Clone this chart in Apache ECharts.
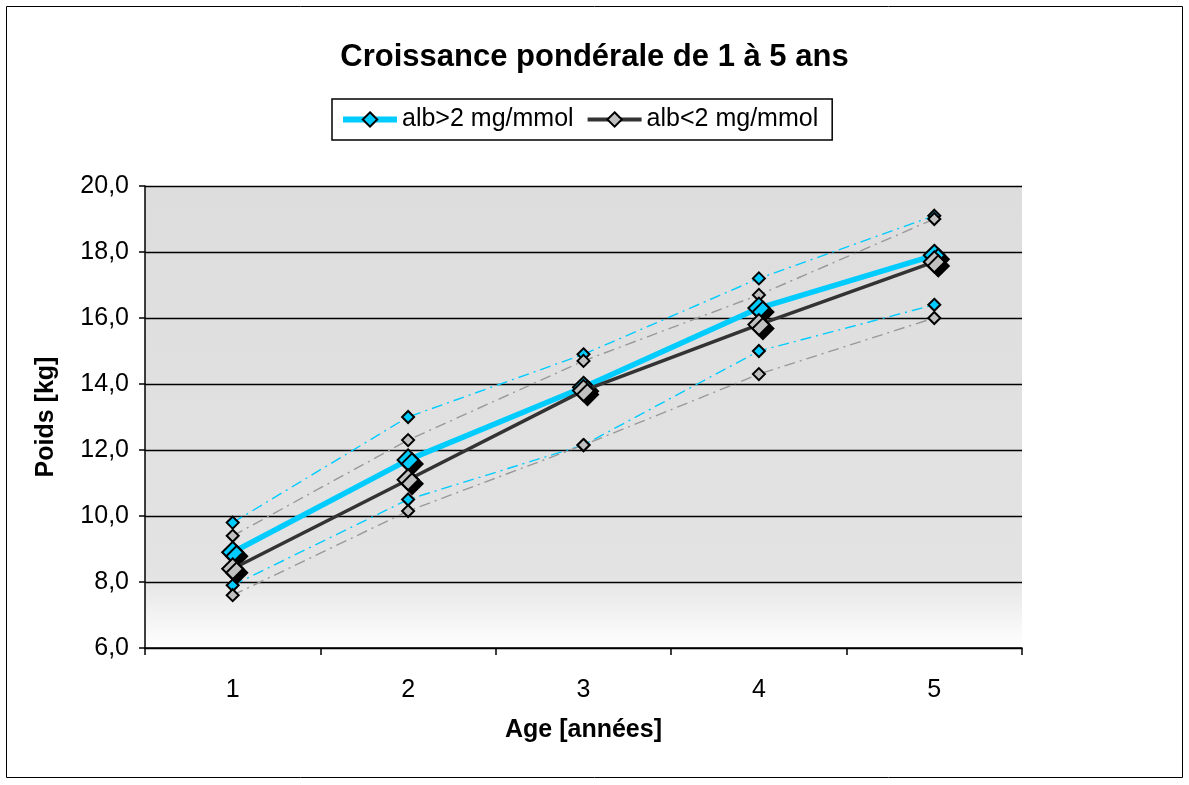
<!DOCTYPE html>
<html>
<head>
    <meta charset="utf-8">
    <script src="https://cdn.jsdelivr.net/npm/echarts@6/dist/echarts.min.js"></script>
    <style>
        html, body { margin: 0; padding: 0; background: #fff; }
        #main { width: 1189px; height: 785px; }
    </style>
</head>
<body>
<div id="main"></div>
<script type="text/javascript">
    // catégories (âge en années)
    var ages = ['1', '2', '3', '4', '5'];
    var yTicks = [6, 8, 10, 12, 14, 16, 18, 20];

    // moyennes
    var albHigh = [8.9, 11.7, 13.9, 16.3, 17.9];
    var albLow = [8.4, 11.1, 13.8, 15.8, 17.7];
    // bornes (pointillés)
    var albHighUp = [9.8, 13.0, 14.9, 17.2, 19.1];
    var albHighDown = [7.9, 10.5, 12.15, 15.0, 16.4];
    var albLowUp = [9.4, 12.3, 14.7, 16.7, 19.0];
    var albLowDown = [7.6, 10.15, 12.15, 14.3, 16.0];

    var cyan = '#00CCFF';
    var grey = '#C0C0C0';
    var font = 'Liberation Sans, Arial, sans-serif';

    function bound(data, color) {
        return {
            type: 'line',
            data: data,
            symbol: 'diamond',
            symbolSize: 12,
            z: 2,
            itemStyle: { color: color === cyan ? cyan : grey, borderColor: '#000', borderWidth: 2 },
            lineStyle: { color: color, width: 1.4, type: [11, 5, 2, 5] },
            emphasis: { disabled: true }
        };
    }

    var myChart = echarts.init(document.getElementById('main'));
    var option = {
        animation: false,
        textStyle: { fontFamily: font },
        title: {
            text: 'Croissance pondérale de 1 à 5 ans',
            left: 'center',
            top: 37,
            textStyle: { fontSize: 31, fontWeight: 'bold', color: '#000', fontFamily: font }
        },
        legend: {
            data: [
                { name: 'alb>2 mg/mmol', lineStyle: { width: 6, color: cyan } },
                { name: 'alb<2 mg/mmol', lineStyle: { width: 4, color: '#333333' } }
            ],
            top: 99,
            left: 332,
            padding: [8, 14, 8, 8],
            borderColor: '#000',
            borderWidth: 1.5,
            itemWidth: 54,
            itemHeight: 18,
            itemGap: 12,
            textStyle: { fontSize: 25, color: '#000', fontFamily: font }
        },
        graphic: [{
            type: 'rect',
            shape: { x: 6.5, y: 6.5, width: 1176, height: 771 },
            style: { fill: 'none', stroke: '#000', lineWidth: 1 },
            silent: true
        }],
        grid: {
            left: 145, right: 167, top: 186, bottom: 137,
            show: true,
            borderWidth: 0,
            backgroundColor: new echarts.graphic.LinearGradient(0, 0, 0, 1, [
                { offset: 0, color: '#dddddd' },
                { offset: 0.84, color: '#e3e3e3' },
                { offset: 1, color: '#ffffff' }
            ])
        },
        xAxis: {
            type: 'category',
            data: ages,
            boundaryGap: true,
            name: 'Age [années]',
            nameLocation: 'middle',
            nameGap: 70,
            nameTextStyle: { fontSize: 25, fontWeight: 'bold', color: '#000' },
            axisLine: { lineStyle: { color: '#000', width: 1.5 } },
            axisTick: { show: true, length: 7, lineStyle: { color: '#000', width: 1.5 } },
            axisLabel: { fontSize: 25, color: '#000', margin: 30 },
            splitLine: { show: false }
        },
        yAxis: {
            type: 'value',
            min: 6,
            max: 20,
            interval: 2,
            name: 'Poids [kg]',
            nameLocation: 'middle',
            nameGap: 86,
            nameTextStyle: { fontSize: 25, fontWeight: 'bold', color: '#000' },
            axisLine: { show: true, lineStyle: { color: '#000', width: 1.5 } },
            axisTick: { show: true, length: 6, lineStyle: { color: '#000', width: 1.5 } },
            axisLabel: {
                fontSize: 25, color: '#000', margin: 16,
                formatter: function (v) { return v.toFixed(1).replace('.', ','); }
            },
            splitLine: { show: true, lineStyle: { color: '#000', width: 1.3 } }
        },
        series: [
            bound(albHighUp, cyan),
            bound(albHighDown, cyan),
            bound(albLowUp, '#999999'),
            bound(albLowDown, '#999999'),
            {
                name: 'alb>2 mg/mmol',
                type: 'line',
                data: albHigh,
                symbol: 'diamond',
                symbolSize: 21,
                z: 4,
                itemStyle: {
                    color: cyan, borderColor: '#000', borderWidth: 2,
                    shadowColor: '#000', shadowOffsetX: 4, shadowOffsetY: 4, shadowBlur: 0
                },
                lineStyle: { color: cyan, width: 5.5 },
                emphasis: { disabled: true }
            },
            {
                name: 'alb<2 mg/mmol',
                type: 'line',
                data: albLow,
                symbol: 'diamond',
                symbolSize: 21,
                z: 5,
                itemStyle: {
                    color: grey, borderColor: '#000', borderWidth: 2,
                    shadowColor: '#000', shadowOffsetX: 4, shadowOffsetY: 4, shadowBlur: 0
                },
                lineStyle: { color: '#333333', width: 3.5 },
                emphasis: { disabled: true }
            }
        ]
    };
    myChart.setOption(option);
</script>
</body>
</html>
